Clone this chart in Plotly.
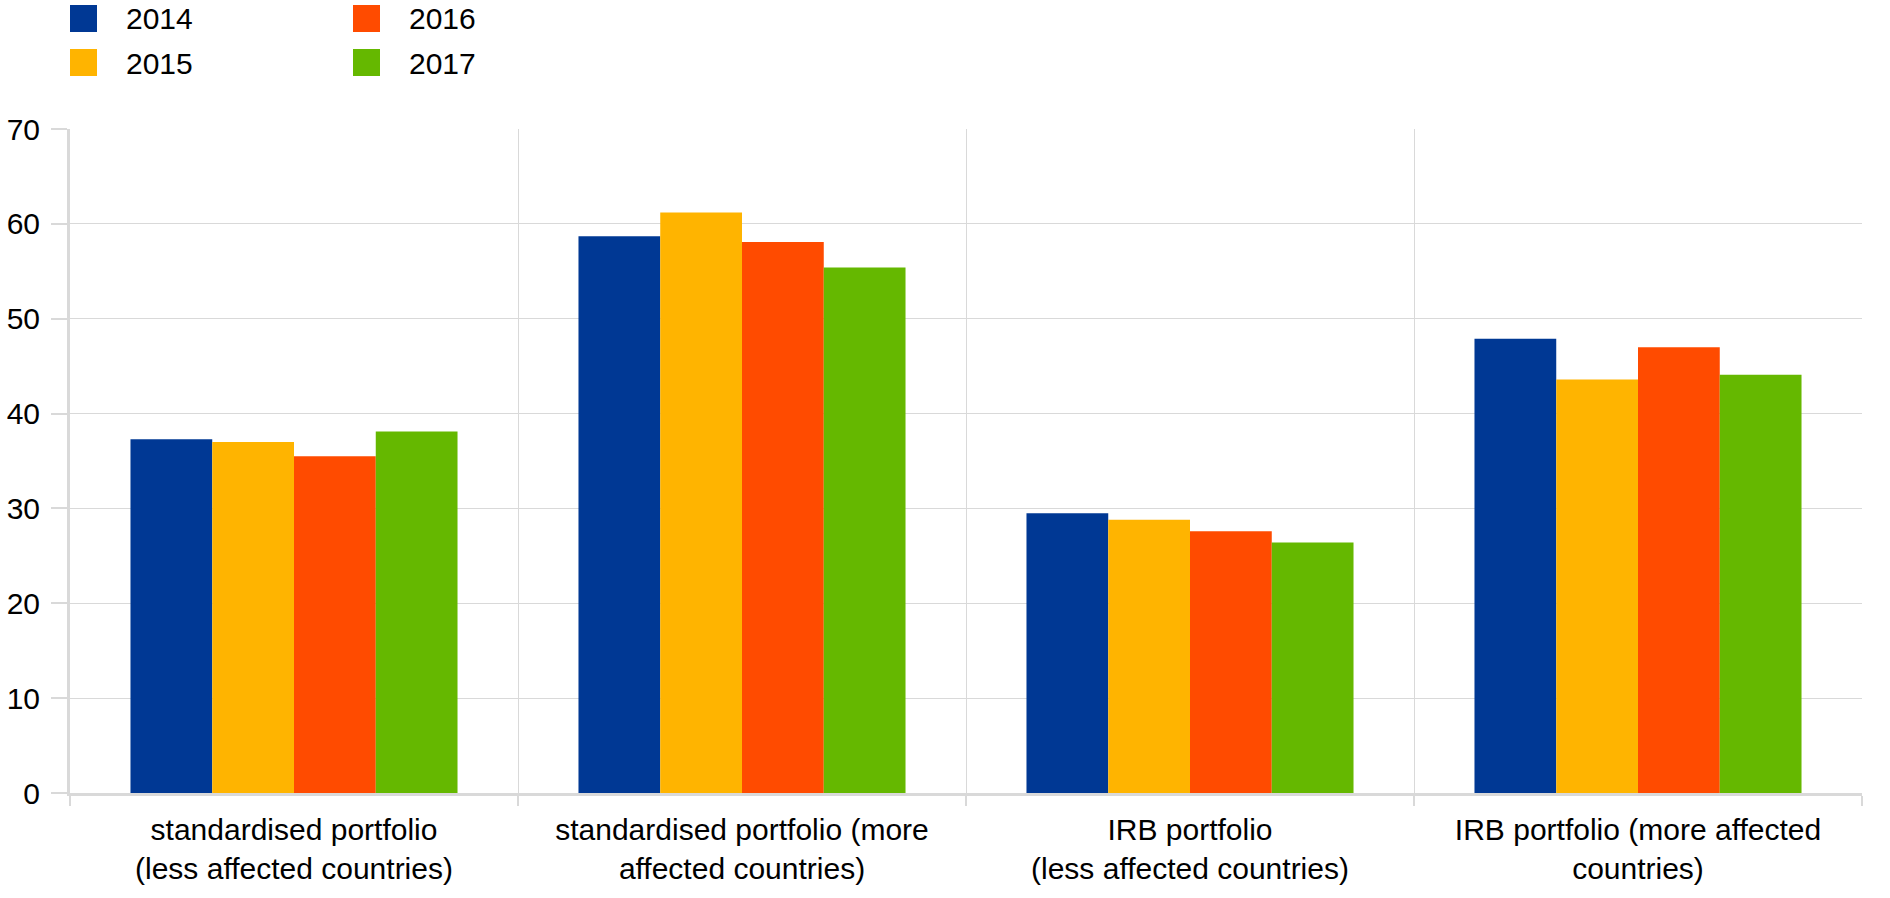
import plotly.graph_objects as go

categories = [
    "standardised portfolio<br>(less affected countries)",
    "standardised portfolio (more<br>affected countries)",
    "IRB portfolio<br>(less affected countries)",
    "IRB portfolio (more affected<br>countries)",
]
years = ["2014", "2015", "2016", "2017"]
v2014 = [37.3, 58.7, 29.5, 47.9]
v2015 = [37.0, 61.2, 28.8, 43.6]
v2016 = [35.5, 58.1, 27.6, 47.0]
v2017 = [38.1, 55.4, 26.4, 44.1]
series = [v2014, v2015, v2016, v2017]
colors = ["#003894", "#ffb400", "#ff4b00", "#65b800"]
y_ticks = [0, 10, 20, 30, 40, 50, 60, 70]

FONT = "Liberation Sans, Arial, sans-serif"

fig = go.Figure()
for name, vals, col in zip(years, series, colors):
    fig.add_trace(go.Bar(x=categories, y=vals, name=name, marker_color=col,
                         marker_line_width=0, showlegend=False))

# plot area on screen: x 70..1862, y 129..793
L, R, T, B = 70, 1862, 129, 793
W, H = float(R - L), float(B - T)
def px2x(p):
    return (p - L) / W
def py2y(p):
    return (B - p) / H

leg_pos = [(70, 5), (70, 49), (353, 5), (353, 49)]
for name, col, (lx, ly) in zip(years, colors, leg_pos):
    fig.add_shape(type="rect", xref="paper", yref="paper",
                  x0=px2x(lx), x1=px2x(lx + 27), y0=py2y(ly + 27), y1=py2y(ly),
                  fillcolor=col, line_width=0)
    fig.add_annotation(xref="paper", yref="paper", x=px2x(lx + 54), y=py2y(ly + 14),
                       text=name, showarrow=False, xanchor="left", yanchor="middle",
                       font=dict(size=30, color="black", family=FONT))

fig.update_layout(
    width=1890, height=898,
    margin=dict(l=L, r=1890 - R, t=T, b=898 - B, pad=0),
    paper_bgcolor="white", plot_bgcolor="white",
    barmode="group", bargap=0.27, bargroupgap=0,
    font=dict(family=FONT, color="black"),
)
fig.update_yaxes(range=[0, 70], tickvals=y_ticks, showgrid=True, gridcolor="#d9d9d9",
                 gridwidth=1, showline=True, linecolor="#d9d9d9", linewidth=3,
                 ticks="outside", ticklen=16, tickwidth=2, tickcolor="#d9d9d9",
                 ticklabelstandoff=5, automargin=False,
                 tickfont=dict(size=30, color="black"), zeroline=False)
fig.update_xaxes(showgrid=True, gridcolor="#d9d9d9", tickson="boundaries",
                 showline=True, linecolor="#d9d9d9", linewidth=3,
                 ticks="outside", ticklen=10, tickwidth=2, tickcolor="#d9d9d9",
                 ticklabelstandoff=8, automargin=False,
                 tickfont=dict(size=30, color="black", family=FONT))

fig.write_html("out.html",
               config={"displayModeBar": False},
               post_script="document.body.style.margin='0px';document.body.style.overflow='hidden';")
